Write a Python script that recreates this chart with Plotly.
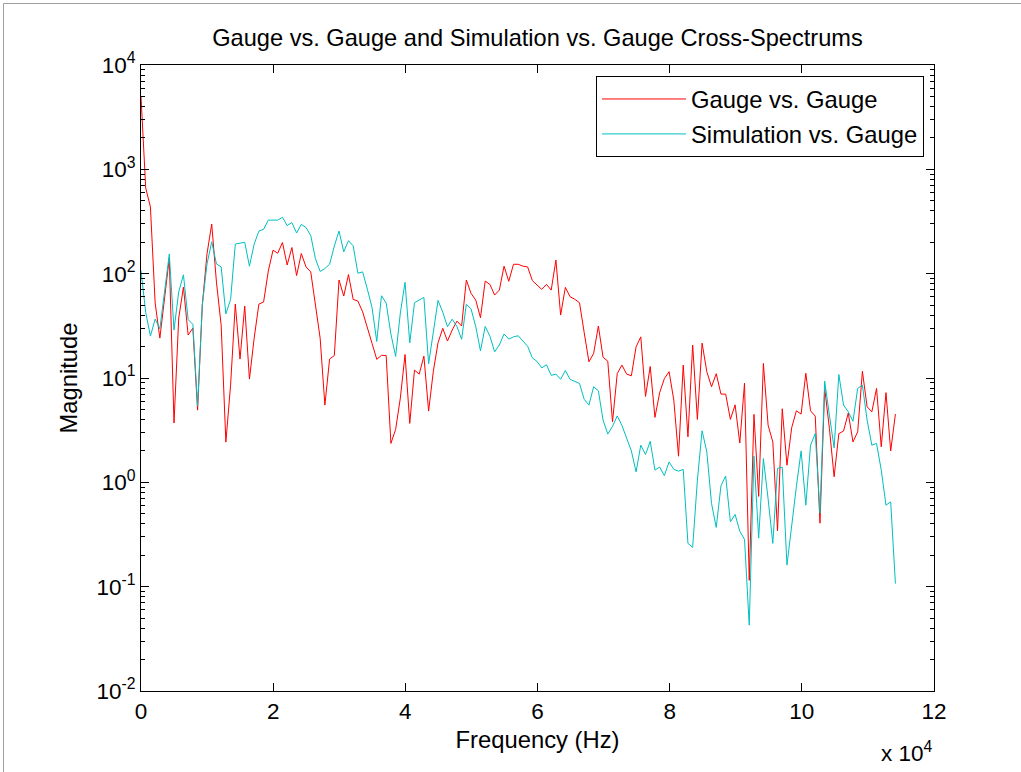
import numpy as np
import plotly.graph_objects as go

# Frequency bins (Hz): 161 uniformly spaced FFT bins
N_BINS = 161
BIN_WIDTH_HZ = 713.5
freq_hz = np.arange(N_BINS) * BIN_WIDTH_HZ

gauge_vs_gauge = [
    5000, 662, 435, 52.3, 24.1, 58.3, 141, 3.70, 37.5, 74.4,
    25.8, 30.1, 4.92, 50.0, 155, 299, 83, 32.1, 2.43, 8.55,
    51.1, 15.2, 48.9, 9.76, 24.1, 51.1, 53.4, 106, 168, 157,
    199, 121, 178, 95.9, 156, 116, 104, 50, 24, 5.5,
    15.2, 16.4, 86.9, 61, 98, 56.7, 54.6, 43.1, 31, 21.5,
    15.1, 16.5, 16.4, 2.36, 3.21, 6.42, 16.8, 3.67, 11.9, 10.9,
    16.2, 4.82, 11.6, 21.8, 29.9, 22.6, 28.8, 35.1, 31.5, 86.9,
    64.7, 55.8, 37.8, 84.9, 78.9, 62.4, 69.6, 118, 84.5, 123,
    123, 118, 116, 85.9, 77.8, 70.7, 78.9, 69.6, 135, 40.1,
    73.9, 60.1, 56.9, 52.6, 27.2, 14.3, 17.2, 31.5, 15.8, 14.5,
    3.80, 11.0, 13.3, 10.9, 10.5, 19.9, 24.8, 6.66, 12.9, 4.19,
    7.24, 9.86, 11.5, 6.14, 1.78, 13.3, 2.73, 20.7, 4.01, 21.6,
    11.5, 8.24, 11.0, 7.01, 7.01, 4.01, 5.53, 2.38, 8.93, 0.115,
    4.48, 0.733, 13.8, 3.53, 2.44, 0.343, 5.07, 1.46, 3.34, 4.85,
    4.51, 11.1, 4.85, 4.31, 0.406, 7.95, 3.29, 1.13, 2.93, 3.10,
    4.61, 2.44, 3.05, 11.6, 5.30, 4.74, 7.95, 2.19, 7.24, 2.00,
    4.51,
]

simulation_vs_gauge = [
    107, 42.4, 25.2, 36.7, 29.6, 68.1, 154, 28.8, 67.0, 97.5,
    36.3, 32.7, 5.38, 50.0, 124, 202, 124, 116, 41.2, 56.5,
    192, 196, 200, 118, 192, 256, 266, 326, 326, 326,
    347, 289, 309, 245, 297, 277, 232, 139, 105, 112,
    123, 184, 256, 162, 207, 185, 101, 104, 71.2, 47.3,
    22.4, 61.4, 52.3, 26.4, 16.1, 41.9, 82.6, 21.7, 52.6, 55.8,
    59.3, 13.7, 27.9, 55.5, 42.7, 31.0, 36.6, 31.2, 23.5, 50.8,
    46.0, 31.0, 18.2, 31.2, 25.2, 17.8, 20.7, 26.4, 23.6, 24.8,
    25.4, 22.5, 20.1, 15.6, 14.4, 12.5, 13.4, 10.6, 10.9, 9.72,
    11.8, 9.70, 9.34, 8.87, 6.24, 5.50, 8.24, 7.54, 3.95, 2.90,
    3.44, 4.33, 3.51, 2.64, 2.00, 1.26, 2.27, 1.85, 2.47, 1.31,
    1.40, 1.16, 1.57, 1.33, 1.28, 1.33, 0.260, 0.238, 1.05, 3.12,
    1.96, 0.628, 0.370, 0.925, 1.15, 0.418, 0.492, 0.340, 0.284, 0.0428,
    1.78, 0.292, 1.69, 0.695, 0.260, 1.36, 1.40, 0.161, 0.411, 0.910,
    2.00, 0.604, 2.27, 2.94, 0.507, 9.34, 4.41, 2.14, 10.8, 5.50,
    4.74, 3.85, 7.95, 8.55, 3.95, 2.27, 2.36, 1.31, 0.604, 0.650,
    0.107,
]

x_tick_vals = [0, 20000, 40000, 60000, 80000, 100000, 120000]
x_tick_text = ["0", "2", "4", "6", "8", "10", "12"]
y_tick_vals = [1e-2, 1e-1, 1e0, 1e1, 1e2, 1e3, 1e4]
y_tick_text = ["10<sup>-2</sup>", "10<sup>-1</sup>", "10<sup>0</sup>", "10<sup>1</sup>",
               "10<sup>2</sup>", "10<sup>3</sup>", "10<sup>4</sup>"]
y_minor_vals = [m * 10.0 ** e for e in range(-2, 4) for m in range(2, 10)]

FONT = "Liberation Sans, Arial, Helvetica, sans-serif"
FS = 22.5
FS_LABEL = 23.8

fig = go.Figure()
fig.add_trace(go.Scatter(x=freq_hz, y=gauge_vs_gauge, mode="lines",
                         name="Gauge vs. Gauge", legendgroup="g1",
                         line=dict(color="rgb(255,0,0)", width=1)))
fig.add_trace(go.Scatter(x=freq_hz, y=simulation_vs_gauge, mode="lines",
                         name="Simulation vs. Gauge", legendgroup="g2",
                         line=dict(color="rgb(0,191,191)", width=1)))

axis_common = dict(showline=True, linecolor="black", linewidth=1, mirror="allticks",
                   ticks="inside", ticklen=8, tickwidth=1, tickcolor="black",
                   showgrid=False, zeroline=False,
                   tickfont=dict(family=FONT, size=FS, color="black"))

fig.update_xaxes(range=[0, 120000], tickmode="array", tickvals=x_tick_vals,
                 ticktext=x_tick_text,
                 title=dict(text="Frequency (Hz)",
                            font=dict(family=FONT, size=FS_LABEL, color="black"),
                            standoff=8),
                 **axis_common)
fig.update_yaxes(type="log", range=[-2, 4], tickmode="array", tickvals=y_tick_vals,
                 ticktext=y_tick_text,
                 minor=dict(ticks="inside", ticklen=4, tickwidth=1, tickcolor="black",
                            tickvals=y_minor_vals, showgrid=False),
                 title=dict(text="Magnitude",
                            font=dict(family=FONT, size=FS_LABEL, color="black"),
                            standoff=12),
                 **axis_common)

W, H = 1021, 772
L, R, T, B = 141, 87, 65, 81
pw, ph = W - L - R, H - T - B

def px(xp):
    return (xp - L) / pw

def py(yp):
    return (H - B - yp) / ph

fig.update_layout(
    width=W, height=H, autosize=False,
    margin=dict(l=L, r=R, t=T, b=B, pad=0),
    paper_bgcolor="white", plot_bgcolor="white",
    font=dict(family=FONT, size=FS, color="black"),
    title=dict(text="Gauge vs. Gauge and Simulation vs. Gauge Cross-Spectrums",
               x=0.5, xref="paper", xanchor="center",
               y=1 - 38 / H, yref="container", yanchor="middle",
               font=dict(family=FONT, size=23.6, color="black")),
    legend=dict(x=px(924), xanchor="right", y=py(76), yanchor="top",
                bgcolor="white", bordercolor="black", borderwidth=1,
                font=dict(family=FONT, size=FS_LABEL, color="black"),
                itemwidth=84, tracegroupgap=1),
    showlegend=True,
)

fig.add_annotation(text="x 10<sup>4</sup>", xref="paper", yref="paper",
                   x=px(879), y=py(752), xanchor="left", yanchor="middle",
                   showarrow=False, font=dict(family=FONT, size=FS, color="black"))

# light gray frame on the top and left edges of the figure
fig.add_shape(type="line", xref="paper", yref="paper", x0=px(3.5), x1=px(3.5),
              y0=py(3.5), y1=py(772), line=dict(color="rgb(160,160,160)", width=1))
fig.add_shape(type="line", xref="paper", yref="paper", x0=px(3.5), x1=px(1021),
              y0=py(3.5), y1=py(3.5), line=dict(color="rgb(160,160,160)", width=1))

fig.write_html("out.html")
